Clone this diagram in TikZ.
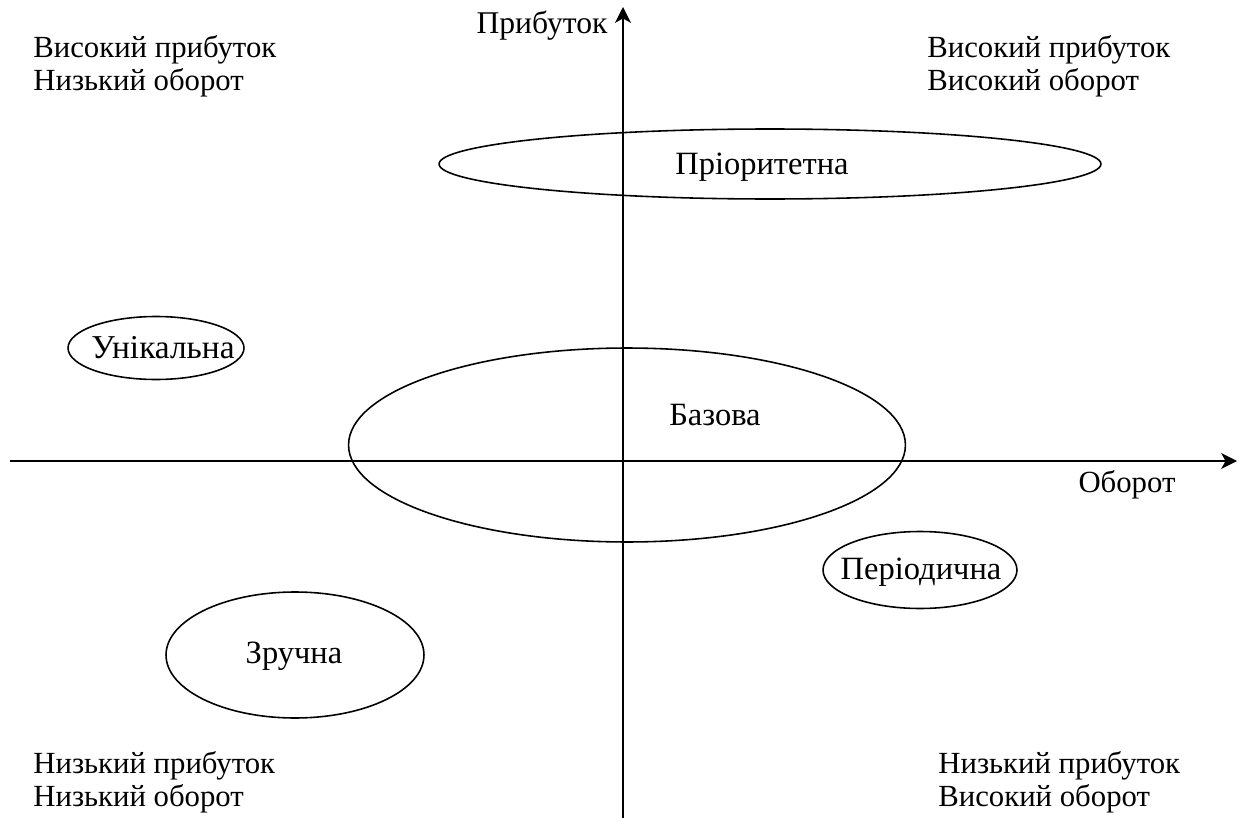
\documentclass[tikz,border=0pt]{standalone}
\usepackage{fontspec}
\setmainfont{Liberation Serif}
\usetikzlibrary{arrows.meta,shapes.geometric}
\begin{document}
\begin{tikzpicture}[x=0.02cm,y=-0.02cm,
  axis/.style={line width=1pt,-{Stealth[length=9pt,width=9pt,inset=2.5pt]}},
  zone/.style={draw,line width=0.9pt,ellipse,inner sep=0pt},
  lbl/.style={font=\fontsize{17.5}{21}\selectfont,inner sep=0pt},
  zlbl/.style={font=\fontsize{18.5}{22}\selectfont,inner sep=0pt,anchor=base},
]
\useasboundingbox (0,0) rectangle (1242,818);

% axes
\coordinate (xs) at (10,461);
\coordinate (xe) at (1237,461);
\coordinate (ys) at (623,818);
\coordinate (ye) at (623,7);
\draw[axis] (xs) -- (xe);
\draw[axis] (ys) -- (ye);
\node[lbl,anchor=base,font=\fontsize{18}{21}\selectfont] (yname) at (542,33) {Прибуток};
\node[lbl,anchor=base] (xname) at (1127,492) {Оборот};

% product groups
\node[zone,minimum width=13.24cm,minimum height=1.4cm] (prio) at (770,164) {};
\node[zone,minimum width=3.52cm,minimum height=1.26cm] (unik) at (156,348) {};
\node[zone,minimum width=11.14cm,minimum height=3.88cm] (baza) at (627,445) {};
\node[zone,minimum width=3.88cm,minimum height=1.54cm] (period) at (920,570) {};
\node[zone,minimum width=5.16cm,minimum height=2.52cm] (zruch) at (295,655) {};

\node[zlbl] (prioT) at (762,174) {Пріоритетна};
\node[zlbl,font=\fontsize{19}{23}\selectfont] (unikT) at (163,358) {Унікальна};
\node[zlbl] (bazaT) at (715,425) {Базова};
\node[zlbl] (periodT) at (921,579) {Періодична};
\node[zlbl] (zruchT) at (294,663) {Зручна};

% quadrant captions
\node[lbl,anchor=base west] (tl1) at (33,57) {Високий прибуток};
\node[lbl,anchor=base west] (tl2) at (33,91) {Низький оборот};
\node[lbl,anchor=base west] (tr1) at (927,57) {Високий прибуток};
\node[lbl,anchor=base west] (tr2) at (927,91) {Високий оборот};
\node[lbl,anchor=base west] (bl1) at (33,773) {Низький прибуток};
\node[lbl,anchor=base west] (bl2) at (33,806) {Низький оборот};
\node[lbl,anchor=base west] (br1) at (938,773) {Низький прибуток};
\node[lbl,anchor=base west] (br2) at (938,806) {Високий оборот};
\end{tikzpicture}
\end{document}
